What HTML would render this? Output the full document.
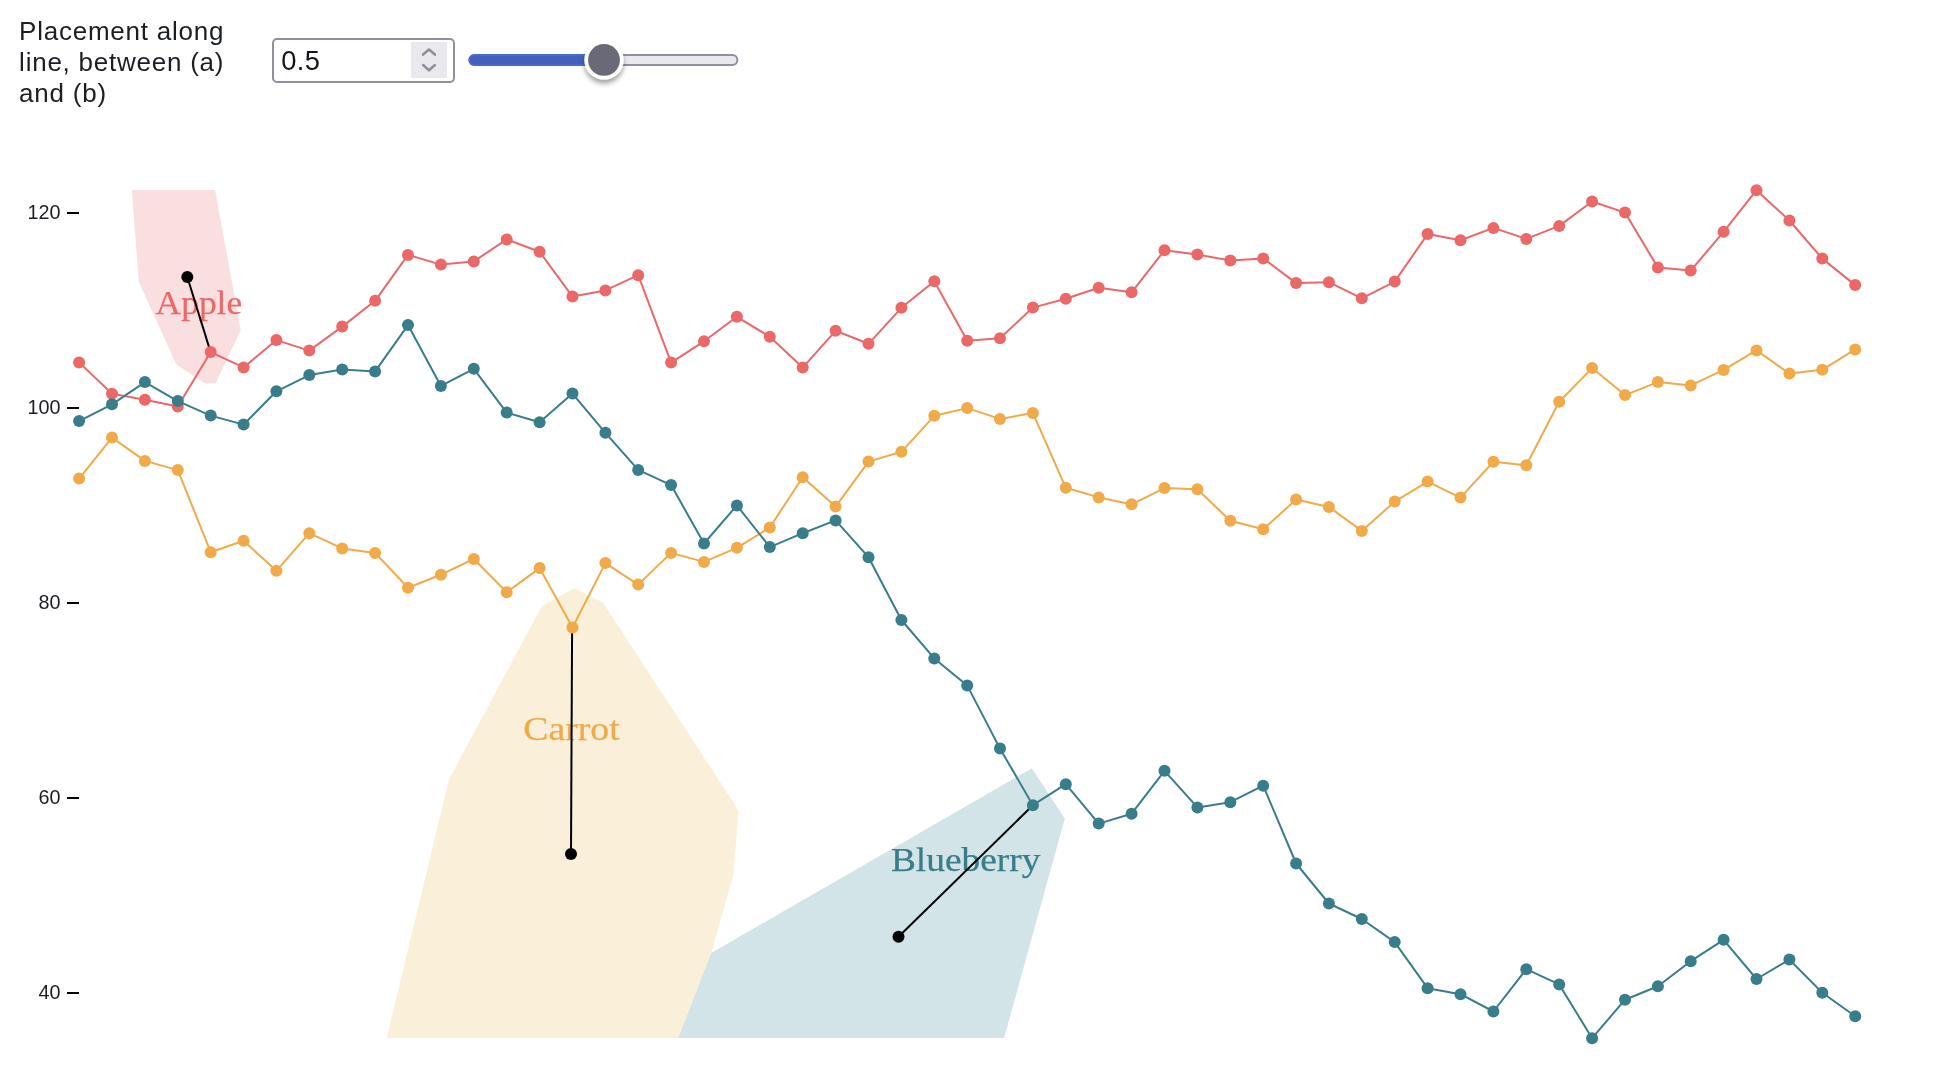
<!DOCTYPE html>
<html><head><meta charset="utf-8"><title>Voronoi labels</title>
<style>
html,body{margin:0;padding:0;background:#fff;}
body{width:1934px;height:1072px;position:relative;overflow:hidden;font-family:"Liberation Sans",sans-serif;}
.lbl{position:absolute;left:19.1px;font-size:26px;line-height:31px;color:#1b1e23;white-space:nowrap;letter-spacing:0.76px;}
.num{position:absolute;left:272.4px;top:38.4px;width:178.5px;height:41px;border:2px solid #8f8f9d;border-radius:5px;background:#fff;}
.num span{position:absolute;left:6.8px;top:4.9px;font-size:27.3px;line-height:31px;color:#15141a;letter-spacing:0.4px;}
.spin{position:absolute;left:136.4px;top:1.6px;width:35.8px;height:35.8px;background:#e9e9ed;}
svg{position:absolute;left:0;top:0;}
#wrap{position:absolute;left:0;top:0;width:1934px;height:1072px;will-change:transform;}
</style></head><body><div id="wrap">
<div class="lbl" style="top:15.7px">Placement along</div>
<div class="lbl" style="top:46.7px">line, between (a)</div>
<div class="lbl" style="top:77.7px">and (b)</div>
<div class="num"><span>0.5</span><div class="spin"><svg width="36" height="36" viewBox="0 0 36 36"><path d="M12.1 12.6 L18 7.5 L23.9 12.6 M12.1 23.1 L18 28.3 L23.9 23.1" fill="none" stroke="#8f8f9d" stroke-width="2.6" stroke-linecap="round" stroke-linejoin="round"/></svg></div></div>
<svg width="1934" height="1072" viewBox="0 0 1934 1072">
<defs><filter id="sh" x="-50%" y="-50%" width="200%" height="200%"><feDropShadow dx="0" dy="4" stdDeviation="2.6" flood-color="#000" flood-opacity="0.36"/></filter></defs>
<rect x="469.4" y="55.1" width="268" height="10" rx="5" fill="#e9e9ed" stroke="#8f8f9d" stroke-width="2"/>
<rect x="469.4" y="55.1" width="134" height="10" rx="5" fill="#4560BB" stroke="#4a69d0" stroke-width="2"/>
<circle cx="604" cy="59.9" r="19.7" fill="#fff" filter="url(#sh)"/>
<circle cx="604" cy="59.9" r="15.9" fill="#696977"/>
<polygon points="131.8,190 215.1,190 240.7,330.6 215.5,383.2 204.8,383.2 176.3,364.6 138.9,282.1" fill="rgb(249,223,224)"/>
<polygon points="574.4,588.2 602.9,602.6 738.8,810.7 733.2,874.8 711.2,953.0 678.3,1038 386.7,1038 449.1,778.9 541.8,606.3" fill="rgb(250,239,217)"/>
<polygon points="1031.9,768.3 1064.8,818.4 1004.1,1038 678.3,1038 711.2,953.0" fill="rgb(210,228,231)"/>
<line x1="67" x2="79" y1="213" y2="213" stroke="#000" stroke-width="2"/>
<text x="60.6" y="218.7" text-anchor="end" font-size="19.8" fill="#1b1e23" font-family="Liberation Sans, sans-serif">120</text>
<line x1="67" x2="79" y1="408" y2="408" stroke="#000" stroke-width="2"/>
<text x="60.6" y="413.7" text-anchor="end" font-size="19.8" fill="#1b1e23" font-family="Liberation Sans, sans-serif">100</text>
<line x1="67" x2="79" y1="603" y2="603" stroke="#000" stroke-width="2"/>
<text x="60.6" y="608.7" text-anchor="end" font-size="19.8" fill="#1b1e23" font-family="Liberation Sans, sans-serif">80</text>
<line x1="67" x2="79" y1="798" y2="798" stroke="#000" stroke-width="2"/>
<text x="60.6" y="803.7" text-anchor="end" font-size="19.8" fill="#1b1e23" font-family="Liberation Sans, sans-serif">60</text>
<line x1="67" x2="79" y1="993" y2="993" stroke="#000" stroke-width="2"/>
<text x="60.6" y="998.7" text-anchor="end" font-size="19.8" fill="#1b1e23" font-family="Liberation Sans, sans-serif">40</text>
<text x="198.9" y="313.9" text-anchor="middle" font-size="34.2" fill="#EB6868" stroke="#EB6868" stroke-width="0.25" font-family="Liberation Serif, serif" textLength="86.6" lengthAdjust="spacingAndGlyphs">Apple</text>
<text x="571.5" y="740.2" text-anchor="middle" font-size="34.2" fill="#F0AA4A" stroke="#F0AA4A" stroke-width="0.25" font-family="Liberation Serif, serif" textLength="96.5" lengthAdjust="spacingAndGlyphs">Carrot</text>
<text x="965.7" y="870.8" text-anchor="middle" font-size="34.2" fill="#3A7D8A" stroke="#3A7D8A" stroke-width="0.25" font-family="Liberation Serif, serif" textLength="149.5" lengthAdjust="spacingAndGlyphs">Blueberry</text>
<line x1="187.3" y1="277.0" x2="210.6" y2="352.1" stroke="#000" stroke-width="2"/>
<circle cx="187.3" cy="277.0" r="6" fill="#000"/>
<line x1="571.0" y1="854.1" x2="572.1" y2="627.4" stroke="#000" stroke-width="2"/>
<circle cx="571.0" cy="854.1" r="6" fill="#000"/>
<line x1="898.5" y1="936.7" x2="1032.9" y2="805.2" stroke="#000" stroke-width="2"/>
<circle cx="898.5" cy="936.7" r="6" fill="#000"/>
<polyline points="79.1,362.4 112.0,393.8 144.9,399.8 177.8,406.6 210.7,352.1 243.6,367.4 276.4,340.1 309.3,350.6 342.2,326.6 375.1,300.8 408.0,254.9 440.9,264.6 473.8,261.4 506.7,239.4 539.6,251.8 572.5,296.6 605.4,290.4 638.2,275.2 671.1,362.6 704.0,341.3 736.9,316.8 769.8,336.8 802.7,367.6 835.6,330.8 868.5,343.8 901.4,307.8 934.3,281.2 967.2,340.8 1000.0,338.3 1032.9,307.6 1065.8,298.8 1098.7,287.8 1131.6,292.3 1164.5,250.3 1197.4,254.6 1230.3,260.4 1263.2,258.4 1296.1,283.1 1328.9,282.2 1361.8,298.3 1394.7,281.6 1427.6,234.1 1460.5,240.2 1493.4,227.9 1526.3,238.9 1559.2,225.9 1592.1,201.5 1625.0,212.6 1657.9,267.6 1690.7,270.6 1723.6,231.8 1756.5,190.2 1789.4,220.5 1822.3,258.6 1855.2,285.1" fill="none" stroke="#EB6868" stroke-width="2" stroke-linejoin="round"/>
<g fill="#EB6868"><circle cx="79.1" cy="362.4" r="6"/><circle cx="112.0" cy="393.8" r="6"/><circle cx="144.9" cy="399.8" r="6"/><circle cx="177.8" cy="406.6" r="6"/><circle cx="210.7" cy="352.1" r="6"/><circle cx="243.6" cy="367.4" r="6"/><circle cx="276.4" cy="340.1" r="6"/><circle cx="309.3" cy="350.6" r="6"/><circle cx="342.2" cy="326.6" r="6"/><circle cx="375.1" cy="300.8" r="6"/><circle cx="408.0" cy="254.9" r="6"/><circle cx="440.9" cy="264.6" r="6"/><circle cx="473.8" cy="261.4" r="6"/><circle cx="506.7" cy="239.4" r="6"/><circle cx="539.6" cy="251.8" r="6"/><circle cx="572.5" cy="296.6" r="6"/><circle cx="605.4" cy="290.4" r="6"/><circle cx="638.2" cy="275.2" r="6"/><circle cx="671.1" cy="362.6" r="6"/><circle cx="704.0" cy="341.3" r="6"/><circle cx="736.9" cy="316.8" r="6"/><circle cx="769.8" cy="336.8" r="6"/><circle cx="802.7" cy="367.6" r="6"/><circle cx="835.6" cy="330.8" r="6"/><circle cx="868.5" cy="343.8" r="6"/><circle cx="901.4" cy="307.8" r="6"/><circle cx="934.3" cy="281.2" r="6"/><circle cx="967.2" cy="340.8" r="6"/><circle cx="1000.0" cy="338.3" r="6"/><circle cx="1032.9" cy="307.6" r="6"/><circle cx="1065.8" cy="298.8" r="6"/><circle cx="1098.7" cy="287.8" r="6"/><circle cx="1131.6" cy="292.3" r="6"/><circle cx="1164.5" cy="250.3" r="6"/><circle cx="1197.4" cy="254.6" r="6"/><circle cx="1230.3" cy="260.4" r="6"/><circle cx="1263.2" cy="258.4" r="6"/><circle cx="1296.1" cy="283.1" r="6"/><circle cx="1328.9" cy="282.2" r="6"/><circle cx="1361.8" cy="298.3" r="6"/><circle cx="1394.7" cy="281.6" r="6"/><circle cx="1427.6" cy="234.1" r="6"/><circle cx="1460.5" cy="240.2" r="6"/><circle cx="1493.4" cy="227.9" r="6"/><circle cx="1526.3" cy="238.9" r="6"/><circle cx="1559.2" cy="225.9" r="6"/><circle cx="1592.1" cy="201.5" r="6"/><circle cx="1625.0" cy="212.6" r="6"/><circle cx="1657.9" cy="267.6" r="6"/><circle cx="1690.7" cy="270.6" r="6"/><circle cx="1723.6" cy="231.8" r="6"/><circle cx="1756.5" cy="190.2" r="6"/><circle cx="1789.4" cy="220.5" r="6"/><circle cx="1822.3" cy="258.6" r="6"/><circle cx="1855.2" cy="285.1" r="6"/></g>

<polyline points="79.1,478.6 112.0,437.6 144.9,460.9 177.8,470.1 210.7,552.2 243.6,540.8 276.4,570.8 309.3,533.2 342.2,548.4 375.1,552.9 408.0,587.8 440.9,574.7 473.8,559.0 506.7,592.2 539.6,568.1 572.5,627.5 605.4,563.1 638.2,584.6 671.1,552.9 704.0,561.9 736.9,547.8 769.8,527.5 802.7,477.2 835.6,506.6 868.5,461.6 901.4,451.8 934.3,415.8 967.2,408.1 1000.0,418.9 1032.9,413.1 1065.8,487.8 1098.7,497.4 1131.6,504.3 1164.5,488.1 1197.4,489.2 1230.3,520.8 1263.2,529.2 1296.1,499.6 1328.9,506.9 1361.8,530.9 1394.7,501.6 1427.6,481.6 1460.5,497.6 1493.4,461.8 1526.3,465.3 1559.2,401.8 1592.1,368.1 1625.0,395.1 1657.9,382.1 1690.7,385.4 1723.6,369.9 1756.5,350.4 1789.4,373.6 1822.3,369.8 1855.2,349.4" fill="none" stroke="#F0AA4A" stroke-width="2" stroke-linejoin="round"/>
<g fill="#F0AA4A"><circle cx="79.1" cy="478.6" r="6"/><circle cx="112.0" cy="437.6" r="6"/><circle cx="144.9" cy="460.9" r="6"/><circle cx="177.8" cy="470.1" r="6"/><circle cx="210.7" cy="552.2" r="6"/><circle cx="243.6" cy="540.8" r="6"/><circle cx="276.4" cy="570.8" r="6"/><circle cx="309.3" cy="533.2" r="6"/><circle cx="342.2" cy="548.4" r="6"/><circle cx="375.1" cy="552.9" r="6"/><circle cx="408.0" cy="587.8" r="6"/><circle cx="440.9" cy="574.7" r="6"/><circle cx="473.8" cy="559.0" r="6"/><circle cx="506.7" cy="592.2" r="6"/><circle cx="539.6" cy="568.1" r="6"/><circle cx="572.5" cy="627.5" r="6"/><circle cx="605.4" cy="563.1" r="6"/><circle cx="638.2" cy="584.6" r="6"/><circle cx="671.1" cy="552.9" r="6"/><circle cx="704.0" cy="561.9" r="6"/><circle cx="736.9" cy="547.8" r="6"/><circle cx="769.8" cy="527.5" r="6"/><circle cx="802.7" cy="477.2" r="6"/><circle cx="835.6" cy="506.6" r="6"/><circle cx="868.5" cy="461.6" r="6"/><circle cx="901.4" cy="451.8" r="6"/><circle cx="934.3" cy="415.8" r="6"/><circle cx="967.2" cy="408.1" r="6"/><circle cx="1000.0" cy="418.9" r="6"/><circle cx="1032.9" cy="413.1" r="6"/><circle cx="1065.8" cy="487.8" r="6"/><circle cx="1098.7" cy="497.4" r="6"/><circle cx="1131.6" cy="504.3" r="6"/><circle cx="1164.5" cy="488.1" r="6"/><circle cx="1197.4" cy="489.2" r="6"/><circle cx="1230.3" cy="520.8" r="6"/><circle cx="1263.2" cy="529.2" r="6"/><circle cx="1296.1" cy="499.6" r="6"/><circle cx="1328.9" cy="506.9" r="6"/><circle cx="1361.8" cy="530.9" r="6"/><circle cx="1394.7" cy="501.6" r="6"/><circle cx="1427.6" cy="481.6" r="6"/><circle cx="1460.5" cy="497.6" r="6"/><circle cx="1493.4" cy="461.8" r="6"/><circle cx="1526.3" cy="465.3" r="6"/><circle cx="1559.2" cy="401.8" r="6"/><circle cx="1592.1" cy="368.1" r="6"/><circle cx="1625.0" cy="395.1" r="6"/><circle cx="1657.9" cy="382.1" r="6"/><circle cx="1690.7" cy="385.4" r="6"/><circle cx="1723.6" cy="369.9" r="6"/><circle cx="1756.5" cy="350.4" r="6"/><circle cx="1789.4" cy="373.6" r="6"/><circle cx="1822.3" cy="369.8" r="6"/><circle cx="1855.2" cy="349.4" r="6"/></g>

<polyline points="79.1,421.1 112.0,404.3 144.9,382.1 177.8,401.1 210.7,415.6 243.6,424.6 276.4,391.3 309.3,375.1 342.2,369.6 375.1,371.4 408.0,325.1 440.9,385.9 473.8,368.8 506.7,412.6 539.6,422.2 572.5,393.6 605.4,432.8 638.2,469.9 671.1,485.1 704.0,543.5 736.9,505.4 769.8,547.1 802.7,533.2 835.6,520.4 868.5,557.2 901.4,620.0 934.3,658.4 967.2,685.4 1000.0,748.6 1032.9,805.2 1065.8,784.2 1098.7,823.6 1131.6,813.7 1164.5,770.8 1197.4,807.4 1230.3,802.2 1263.2,785.7 1296.1,863.5 1328.9,903.5 1361.8,919.0 1394.7,942.1 1427.6,988.2 1460.5,994.2 1493.4,1011.5 1526.3,969.2 1559.2,984.4 1592.1,1038.2 1625.0,999.7 1657.9,986.2 1690.7,961.2 1723.6,939.8 1756.5,979.0 1789.4,959.6 1822.3,992.8 1855.2,1016.2" fill="none" stroke="#3A7D8A" stroke-width="2" stroke-linejoin="round"/>
<g fill="#3A7D8A"><circle cx="79.1" cy="421.1" r="6"/><circle cx="112.0" cy="404.3" r="6"/><circle cx="144.9" cy="382.1" r="6"/><circle cx="177.8" cy="401.1" r="6"/><circle cx="210.7" cy="415.6" r="6"/><circle cx="243.6" cy="424.6" r="6"/><circle cx="276.4" cy="391.3" r="6"/><circle cx="309.3" cy="375.1" r="6"/><circle cx="342.2" cy="369.6" r="6"/><circle cx="375.1" cy="371.4" r="6"/><circle cx="408.0" cy="325.1" r="6"/><circle cx="440.9" cy="385.9" r="6"/><circle cx="473.8" cy="368.8" r="6"/><circle cx="506.7" cy="412.6" r="6"/><circle cx="539.6" cy="422.2" r="6"/><circle cx="572.5" cy="393.6" r="6"/><circle cx="605.4" cy="432.8" r="6"/><circle cx="638.2" cy="469.9" r="6"/><circle cx="671.1" cy="485.1" r="6"/><circle cx="704.0" cy="543.5" r="6"/><circle cx="736.9" cy="505.4" r="6"/><circle cx="769.8" cy="547.1" r="6"/><circle cx="802.7" cy="533.2" r="6"/><circle cx="835.6" cy="520.4" r="6"/><circle cx="868.5" cy="557.2" r="6"/><circle cx="901.4" cy="620.0" r="6"/><circle cx="934.3" cy="658.4" r="6"/><circle cx="967.2" cy="685.4" r="6"/><circle cx="1000.0" cy="748.6" r="6"/><circle cx="1032.9" cy="805.2" r="6"/><circle cx="1065.8" cy="784.2" r="6"/><circle cx="1098.7" cy="823.6" r="6"/><circle cx="1131.6" cy="813.7" r="6"/><circle cx="1164.5" cy="770.8" r="6"/><circle cx="1197.4" cy="807.4" r="6"/><circle cx="1230.3" cy="802.2" r="6"/><circle cx="1263.2" cy="785.7" r="6"/><circle cx="1296.1" cy="863.5" r="6"/><circle cx="1328.9" cy="903.5" r="6"/><circle cx="1361.8" cy="919.0" r="6"/><circle cx="1394.7" cy="942.1" r="6"/><circle cx="1427.6" cy="988.2" r="6"/><circle cx="1460.5" cy="994.2" r="6"/><circle cx="1493.4" cy="1011.5" r="6"/><circle cx="1526.3" cy="969.2" r="6"/><circle cx="1559.2" cy="984.4" r="6"/><circle cx="1592.1" cy="1038.2" r="6"/><circle cx="1625.0" cy="999.7" r="6"/><circle cx="1657.9" cy="986.2" r="6"/><circle cx="1690.7" cy="961.2" r="6"/><circle cx="1723.6" cy="939.8" r="6"/><circle cx="1756.5" cy="979.0" r="6"/><circle cx="1789.4" cy="959.6" r="6"/><circle cx="1822.3" cy="992.8" r="6"/><circle cx="1855.2" cy="1016.2" r="6"/></g>

</svg>
</div></body></html>
